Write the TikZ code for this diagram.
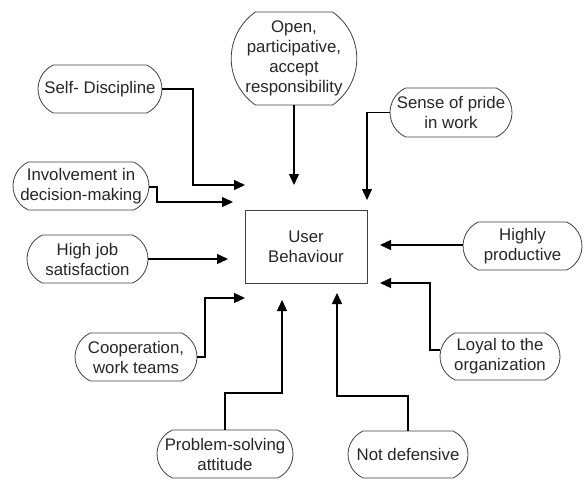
\documentclass[tikz,border=0pt]{standalone}
\usepackage{fontspec}
\setmainfont{Liberation Sans}
\usetikzlibrary{arrows.meta}
\usetikzlibrary{shapes.misc}

\begin{document}
\begin{tikzpicture}[x=1pt, y=-1pt]
                \tikzstyle{trait} = [rounded rectangle, rounded rectangle arc length=130, draw=black!75, line width=0.8pt, fill=white, align=center, inner sep=0pt, text=black!85, font=\fontsize{16.8}{20}\selectfont]
                \tikzstyle{link} = [line width=1.3pt, -{Triangle[length=11pt, width=10pt]}]
                \useasboundingbox (0, 0) rectangle (585, 481);
                \node[draw=black!75, line width=0.8pt, minimum width=122pt, minimum height=73pt, align=center, text=black!85, font=\fontsize{16.8}{20}\selectfont] (user) at (306, 246.5) {User\\Behaviour};
                \node[trait, minimum width=124pt, minimum height=48pt] (selfdisc) at (100, 89) {Self- Discipline};
                \node[trait, minimum width=136pt, minimum height=48pt] (involve) at (81, 186) {Involvement in\\decision-making};
                \node[trait, minimum width=122pt, minimum height=93pt, rounded rectangle arc length=110] (open) at (294, 58.5) {Open,\\participative,\\accept\\responsibility};
                \node[trait, minimum width=122pt, minimum height=49pt] (pride) at (451, 112.5) {Sense of pride\\in work};
                \node[trait, minimum width=121pt, minimum height=48pt] (jobsat) at (87.5, 259) {High job\\satisfaction};
                \node[trait, minimum width=119pt, minimum height=48pt] (productive) at (522.5, 246) {Highly\\productive};
                \node[trait, minimum width=122pt, minimum height=48pt] (coop) at (136, 357) {Cooperation,\\work teams};
                \node[trait, minimum width=120pt, minimum height=47pt] (loyal) at (500, 356.5) {Loyal to the\\organization};
                \node[trait, minimum width=136pt, minimum height=48pt] (problem) at (225, 454) {Problem-solving\\attitude};
                \node[trait, minimum width=120pt, minimum height=47pt] (notdef) at (408, 454.5) {Not defensive};
                % free ends of the arrows, round the box
                \coordinate (tipselfdisc) at (245, 185);
                \coordinate (tipinvolve) at (233, 202);
                \coordinate (tipopen) at (294, 185);
                \coordinate (tippride) at (367, 200);
                \coordinate (tipjobsat) at (228, 259);
                \coordinate (tipproductive) at (380, 245);
                \coordinate (tiployal) at (380, 283);
                \coordinate (tipcoop) at (245, 298);
                \coordinate (tipproblem) at (282, 300);
                \coordinate (tipnotdef) at (337, 293);
                \draw[link] (selfdisc.east) -| (193, 185) -- (tipselfdisc);
                \draw[link] (involve.east |- 0, 187) -- (157, 187) |- (tipinvolve);
                \draw[link] (open.south) -- (tipopen);
                \draw[link] (pride.west) -| (tippride);
                \draw[link] (jobsat.east) -- (tipjobsat);
                \draw[link] (productive.west |- 0, 245) -- (tipproductive);
                \draw[link] (loyal.west |- 0, 350) -| (430, 283) -- (tiployal);
                \draw[link] (coop.east) -| (205, 298) -- (tipcoop);
                \draw[link] (problem.north) |- (282, 393) -- (tipproblem);
                \draw[link] (notdef.north) |- (337, 396) -- (tipnotdef);
            \end{tikzpicture}
\end{document}
